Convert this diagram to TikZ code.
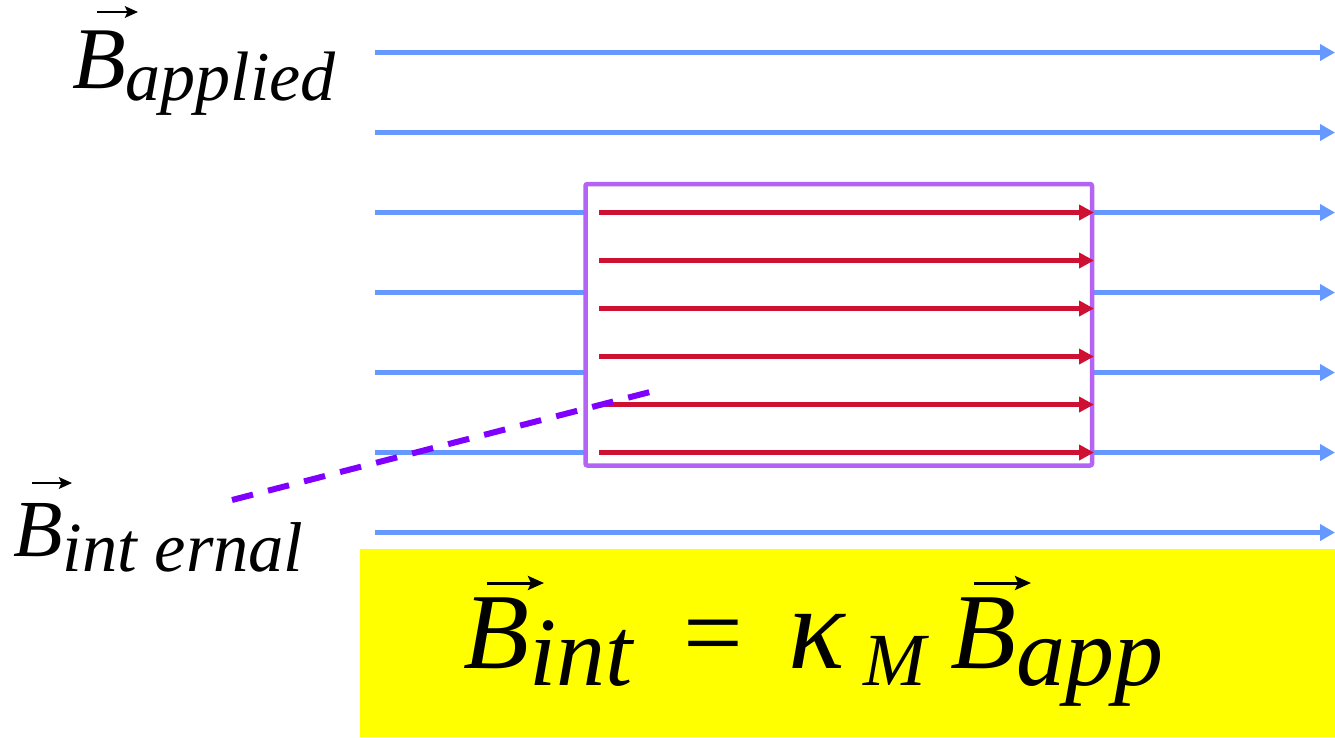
\documentclass[tikz,border=0pt]{standalone}
\usepackage{fontspec}
\setmainfont{Liberation Serif}
\usetikzlibrary{arrows.meta}
\definecolor{fieldblue}{RGB}{102,153,255}
\definecolor{fieldred}{RGB}{206,16,50}
\definecolor{boxpurple}{RGB}{180,100,245}
\definecolor{dashviolet}{RGB}{128,0,255}
\definecolor{eqyellow}{RGB}{255,255,0}
\begin{document}
\begin{tikzpicture}[x=1pt,y=-1pt,
  bluefield/.style={draw=fieldblue,line width=5.5pt,-{Triangle[length=15pt,width=16pt]}},
  redfield/.style={draw=fieldred,line width=5.5pt,-{Triangle[length=15pt,width=15pt]}},
  sample/.style={draw=boxpurple,fill=white,line width=4.5pt,rounded corners=2pt},
  pointer/.style={draw=dashviolet,line width=6pt,dash pattern=on 21.7pt off 15.5pt},
  label/.style={inner sep=0pt,anchor=base west},
  vecbig/.style={draw=black,line width=3pt,-{Stealth[length=16pt,width=14pt,inset=3pt]}},
  vecsmall/.style={draw=black,line width=2.5pt,-{Stealth[length=13pt,width=11.5pt,inset=2.5pt]}}]
\useasboundingbox (0,0) rectangle (1335,737);
% applied field lines
\foreach \yy [count=\i] in {52.5,132.5,212.5,292.5,372.5,452.5,532.5}{
  \coordinate (bl\i) at (375,\yy);
  \coordinate (br\i) at (1335,\yy);
  \draw[bluefield] (bl\i) -- (br\i);
}
% sample
\node[sample,minimum width=506.5pt,minimum height=281.5pt,inner sep=0pt] (box) at (838.75,324.75) {};
% internal field lines
\foreach \yy [count=\i] in {212.5,260.5,308.5,356.5,404.5,452.5}{
  \coordinate (rl\i) at (599,\yy);
  \coordinate (rr\i) at (1094,\yy);
  \draw[redfield] (rl\i) -- (rr\i);
}
% yellow equation panel
\fill[eqyellow] (360,549) rectangle (1335,737);
% labels
\node[label] (lapp) at (72,88) {\fontsize{88}{88}\selectfont\textit{B}\raisebox{-12pt}{\fontsize{70}{70}\selectfont\textit{applied}}};
\draw[vecsmall] ([shift={(25,-76)}]lapp.base west) -- ([shift={(66,-76)}]lapp.base west);
\node[label] (lint) at (13,556) {\fontsize{81}{81}\selectfont\textit{B}\raisebox{-15pt}{\fontsize{70.5}{70.5}\selectfont\textit{int ernal}}};
\draw[vecsmall] ([shift={(19,-73)}]lint.base west) -- ([shift={(59,-73)}]lint.base west);
% pointer
\coordinate (ps) at (232,500);
\coordinate (pe) at (650,392);
\draw[pointer] (ps) -- (pe);
% equation
\node[label] (eqB1) at (463,668) {\fontsize{108}{108}\selectfont\textit{B}\raisebox{-17pt}{\fontsize{98}{98}\selectfont\textit{int}}};
\draw[vecbig] ([shift={(24,-85)}]eqB1.base west) -- ([shift={(81,-85)}]eqB1.base west);
\node[label] (eqeq) at (683,668) {\fontsize{106}{106}\selectfont =};
\node[label] (eqk) at (788,668) {\fontsize{118}{118}\selectfont\textit{κ}};
\node[label] (eqM) at (863,685) {\fontsize{75}{75}\selectfont\textit{M}};
\node[label] (eqB2) at (950,668) {\fontsize{108}{108}\selectfont\textit{B}\raisebox{-17pt}{\fontsize{98}{98}\selectfont\textit{app}}};
\draw[vecbig] ([shift={(24,-85)}]eqB2.base west) -- ([shift={(81,-85)}]eqB2.base west);
\end{tikzpicture}
\end{document}
